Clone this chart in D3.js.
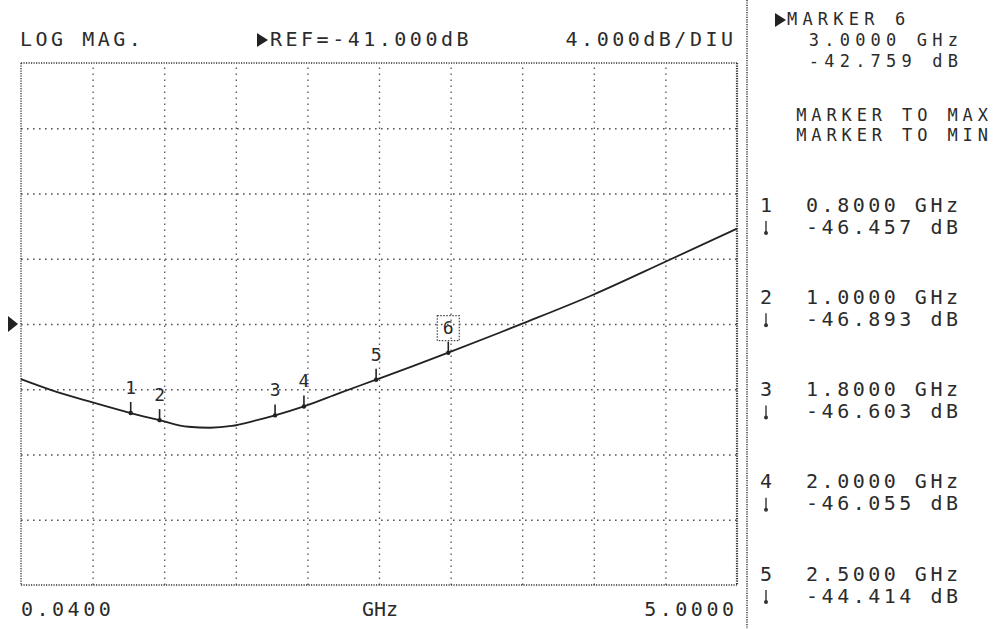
<!DOCTYPE html>
<html>
<head>
<meta charset="utf-8">
<script src="https://cdn.jsdelivr.net/npm/d3@7"></script>
<style>
  html, body { margin: 0; padding: 0; background: #fff; }
  svg { display: block; }
  text { font-family: "DejaVu Sans Mono", "Liberation Mono", monospace; fill: #2b2b2b; }
</style>
</head>
<body>
<svg id="chart" width="993" height="629"></svg>
<script>
// ---------- data ----------
const traceFreqs = [0.04, 0.25, 0.53, 0.8, 1.0, 1.2, 1.35, 1.5, 1.65, 1.8, 2.0, 2.25, 2.5, 2.75, 3.0, 3.35, 3.5, 4.0, 4.5, 5.0];
const traceDb    = [-44.38, -45.05, -45.79, -46.457, -46.893, -47.30, -47.36, -47.25, -46.95, -46.603, -46.055, -45.22, -44.414, -43.60, -42.759, -41.55, -41.02, -39.22, -37.20, -35.15];

const markerIds   = ["1", "2", "3", "4", "5", "6"];
const markerFreqs = [0.8, 1.0, 1.8, 2.0, 2.5, 3.0];
const markerDb    = [-46.457, -46.893, -46.603, -46.055, -44.414, -42.759];
const markerFreqLabels = ["0.8000 GHz", "1.0000 GHz", "1.8000 GHz", "2.0000 GHz", "2.5000 GHz", "3.0000 GHz"];
const markerDbLabels   = ["-46.457 dB", "-46.893 dB", "-46.603 dB", "-46.055 dB", "-44.414 dB", "-42.759 dB"];
const activeMarker = 5; // index of marker 6

const startFreq = 0.04, stopFreq = 5.0;
const refDb = -41, dbPerDiv = 4, refDiv = 4, nYDiv = 8, nXDiv = 10;
const xTickLabels = ["0.0400", "GHz", "5.0000"];
const headerLabels = ["LOG MAG.", "REF=-41.000dB", "4.000dB/DIU"];
const panelLabels = ["MARKER 6", "3.0000 GHz", "-42.759 dB", "MARKER TO MAX", "MARKER TO MIN"];

// ---------- layout ----------
const svg = d3.select("#chart");
const L = 21, R = 737, T = 63, B = 585;
const x = d3.scaleLinear().domain([startFreq, stopFreq]).range([L, R]);
const yMin = refDb - refDiv * dbPerDiv, yMax = refDb + (nYDiv - refDiv) * dbPerDiv;
const y = d3.scaleLinear().domain([yMin, yMax]).range([B, T]);

const xDivs = d3.range(nXDiv + 1).map(i => startFreq + i * (stopFreq - startFreq) / nXDiv);
const yDivs = d3.range(nYDiv + 1).map(i => yMin + i * dbPerDiv);

const LS = 3.5; // letter spacing
function txt(g, s, px, py, opts = {}) {
  const ls = opts.ls != null ? opts.ls : LS;
  const anchor = opts.anchor || "start";
  return g.append("text")
    .attr("x", anchor === "end" ? px + ls : px).attr("y", py)
    .attr("font-size", opts.size || 20)
    .attr("letter-spacing", ls)
    .attr("text-anchor", anchor)
    .attr("dominant-baseline", "middle")
    .text(s);
}

// ---------- grid via axes ----------
const gx = svg.append("g").attr("transform", `translate(0,${B})`)
  .call(d3.axisBottom(x).tickValues(xDivs.slice(1, -1)).tickSize(-(B - T)).tickFormat(""));
gx.select(".domain").remove();
gx.selectAll("line").attr("stroke", "#555").attr("stroke-width", 1.3).attr("stroke-dasharray", "1.6,4.4");

const gy = svg.append("g").attr("transform", `translate(${L},0)`)
  .call(d3.axisLeft(y).tickValues(yDivs.slice(1, -1)).tickSize(-(R - L)).tickFormat(""));
gy.select(".domain").remove();
gy.selectAll("line").attr("stroke", "#555").attr("stroke-width", 1.3).attr("stroke-dasharray", "1.6,4.4");

// border
const border = svg.append("g").attr("fill", "none").attr("stroke", "#333").attr("stroke-dasharray", "1.2,1.3");
border.append("line").attr("x1", x(startFreq)).attr("x2", x(stopFreq)).attr("y1", y(yMax)).attr("y2", y(yMax)).attr("stroke-width", 1.3);
border.append("line").attr("x1", x(startFreq)).attr("x2", x(stopFreq)).attr("y1", y(yMin)).attr("y2", y(yMin)).attr("stroke-width", 1.5);
border.append("line").attr("x1", x(startFreq)).attr("x2", x(startFreq)).attr("y1", y(yMax)).attr("y2", y(yMin)).attr("stroke-width", 1.3);
border.append("line").attr("x1", x(stopFreq)).attr("x2", x(stopFreq)).attr("y1", y(yMax)).attr("y2", y(yMin)).attr("stroke-width", 2.2);

// panel divider
svg.append("line").attr("x1", 747).attr("x2", 747).attr("y1", 0).attr("y2", 629)
  .attr("stroke", "#444").attr("stroke-width", 1.6).attr("stroke-dasharray", "1.2,1.2");

// ---------- trace ----------
const traceData = traceFreqs.map((f, i) => ({ f, db: traceDb[i] }));
svg.append("path").datum(traceData)
  .attr("fill", "none").attr("stroke", "#222").attr("stroke-width", 1.8)
  .attr("d", d3.line().x(d => x(d.f)).y(d => y(d.db)).curve(d3.curveMonotoneX));

// ---------- markers ----------
const mg = svg.append("g");
markerFreqs.forEach((f, i) => {
  const mx = x(f), my = y(markerDb[i]);
  mg.append("line").attr("x1", mx).attr("x2", mx).attr("y1", my - 11).attr("y2", my)
    .attr("stroke", "#222").attr("stroke-width", 1.6);
  mg.append("circle").attr("cx", mx).attr("cy", my).attr("r", 2.2).attr("fill", "#222");
  txt(mg, markerIds[i], mx, my - 24, { size: 18, ls: 0, anchor: "middle" });
  if (i === activeMarker) {
    mg.append("rect").attr("x", mx - 11).attr("y", my - 37).attr("width", 22).attr("height", 25)
      .attr("fill", "none").attr("stroke", "#444").attr("stroke-width", 1.2).attr("stroke-dasharray", "1.5,1.5");
  }
});

// reference triangle on left edge
svg.append("path")
  .attr("d", `M8,${y(refDb) - 8} L18,${y(refDb)} L8,${y(refDb) + 8} Z`)
  .attr("fill", "#222");

// ---------- header ----------
const hg = svg.append("g");
txt(hg, headerLabels[0], 20, 40);
hg.append("path").attr("d", "M257,33 L268,40 L257,47 Z").attr("fill", "#222");
txt(hg, headerLabels[1], 270, 40);
txt(hg, headerLabels[2], 733, 40, { anchor: "end" });

// ---------- x labels ----------
const bg = svg.append("g");
txt(bg, xTickLabels[0], 21, 610);
txt(bg, xTickLabels[1], (L + R) / 2 + 1, 610, { anchor: "middle", ls: 0 });
txt(bg, xTickLabels[2], 734, 610, { anchor: "end" });

// ---------- right panel ----------
const pg = svg.append("g");
const PS = 17, PLS = 5.2;
pg.append("path").attr("d", "M775,13 L786,20 L775,27 Z").attr("fill", "#222");
txt(pg, panelLabels[0], 787, 20, { size: PS, ls: PLS });
txt(pg, panelLabels[1], 958, 41, { anchor: "end", size: PS, ls: PLS });
txt(pg, panelLabels[2], 958, 62, { anchor: "end", size: PS, ls: PLS });
txt(pg, panelLabels[3], 988, 116, { anchor: "end", size: PS, ls: 4.9 });
txt(pg, panelLabels[4], 988, 136, { anchor: "end", size: PS, ls: 4.9 });

const entryY = d3.scaleLinear().domain([0, 4]).range([206, 575]);
for (let i = 0; i < 5; i++) {
  const ey = entryY(i);
  txt(pg, markerIds[i], 766, ey, { anchor: "middle", ls: 0 });
  txt(pg, markerFreqLabels[i], 958, ey, { anchor: "end" });
  pg.append("line").attr("x1", 766).attr("x2", 766).attr("y1", ey + 15).attr("y2", ey + 28)
    .attr("stroke", "#333").attr("stroke-width", 1.4);
  pg.append("circle").attr("cx", 766).attr("cy", ey + 27).attr("r", 2).attr("fill", "#333");
  txt(pg, markerDbLabels[i], 958, ey + 22, { anchor: "end" });
}
</script>
</body>
</html>
